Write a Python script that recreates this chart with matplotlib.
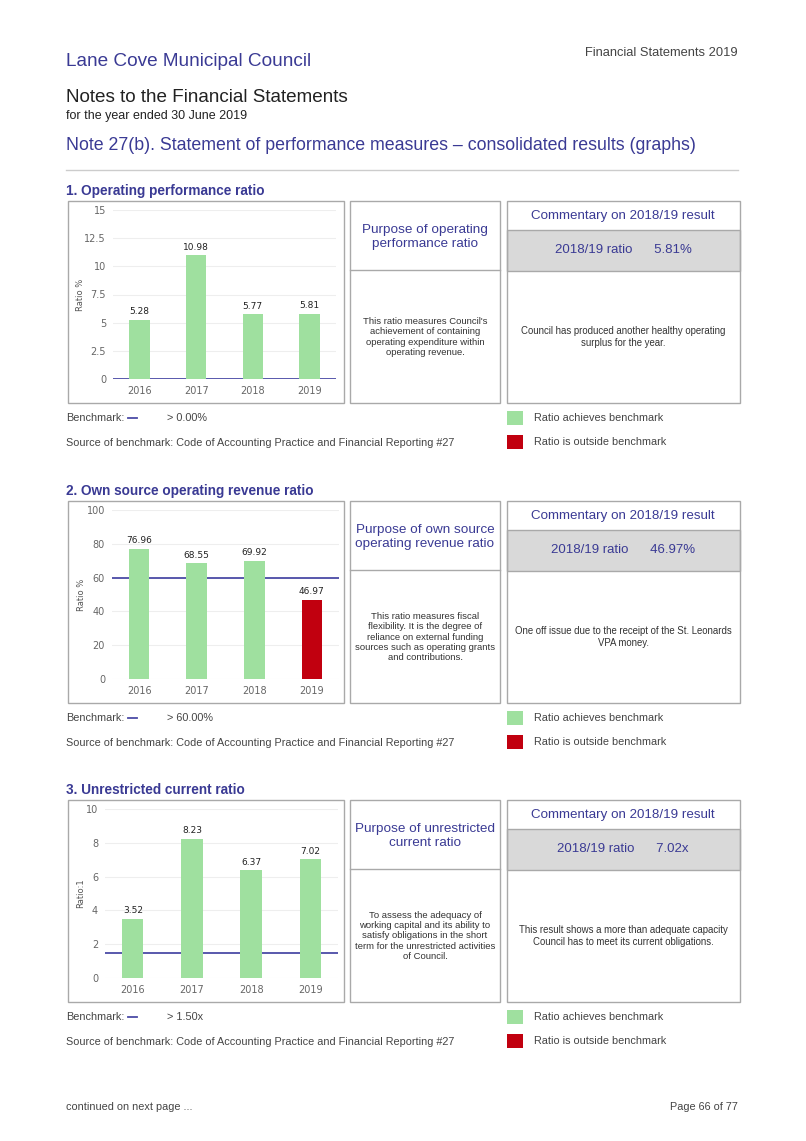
import matplotlib
matplotlib.use("Agg")
import matplotlib.pyplot as plt
from matplotlib.patches import Rectangle

# page size in pixels (dpi 100)
W, H = 806, 1141

years = ["2016", "2017", "2018", "2019"]

op_perf = [5.28, 10.98, 5.77, 5.81]
own_source = [76.96, 68.55, 69.92, 46.97]
unrestricted = [3.52, 8.23, 6.37, 7.02]

benchmarks = [0.0, 60.0, 1.5]
benchmark_labels = ["> 0.00%", "> 60.00%", "> 1.50x"]
result_labels = ["5.81%", "46.97%", "7.02x"]
y_maxes = [15, 100, 10]
y_steps = [2.5, 20, 2]
y_titles = ["Ratio %", "Ratio %", "Ratio:1"]

section_titles = [
    "1. Operating performance ratio",
    "2. Own source operating revenue ratio",
    "3. Unrestricted current ratio",
]
purpose_titles = [
    "Purpose of operating\nperformance ratio",
    "Purpose of own source\noperating revenue ratio",
    "Purpose of unrestricted\ncurrent ratio",
]
purpose_texts = [
    "This ratio measures Council's\nachievement of containing\noperating expenditure within\noperating revenue.",
    "This ratio measures fiscal\nflexibility. It is the degree of\nreliance on external funding\nsources such as operating grants\nand contributions.",
    "To assess the adequacy of\nworking capital and its ability to\nsatisfy obligations in the short\nterm for the unrestricted activities\nof Council.",
]
comments = [
    "Council has produced another healthy operating\nsurplus for the year.",
    "One off issue due to the receipt of the St. Leonards\nVPA money.",
    "This result shows a more than adequate capacity\nCouncil has to meet its current obligations.",
]
source_text = "Source of benchmark: Code of Accounting Practice and Financial Reporting #27"

BLUE = "#3a3a94"
LINE = "#4b4ba6"
GREEN = "#9fe09f"
RED = "#c1000f"
BORDER = "#a9a9a9"
GREY_TEXT = "#444444"

plt.rcParams["font.family"] = ["Liberation Sans", "DejaVu Sans"]

fig = plt.figure(figsize=(W / 100, H / 100), dpi=100)
page = fig.add_axes([0, 0, 1, 1])
page.set_xlim(0, W)
page.set_ylim(H, 0)
page.axis("off")


def px_axes(l, t, r, b):
    return fig.add_axes([l / W, 1 - b / H, (r - l) / W, (b - t) / H])


def box(x0, y0, x1, y1, fc="none"):
    page.add_patch(Rectangle((x0, y0), x1 - x0, y1 - y0, fc=fc, ec=BORDER, lw=1))


# header
page.text(66, 62, "Lane Cove Municipal Council", color=BLUE, fontsize=13.7, va="center")
page.text(738, 53, "Financial Statements 2019", color=GREY_TEXT, fontsize=9.3, va="center", ha="right")
page.text(66, 97, "Notes to the Financial Statements", color="#222222", fontsize=13.6, va="center")
page.text(66, 116, "for the year ended 30 June 2019", color="#222222", fontsize=9, va="center")
page.text(66, 146, "Note 27(b). Statement of performance measures \u2013 consolidated results (graphs)",
          color=BLUE, fontsize=12.8, va="center")
page.plot([66, 738], [170, 170], color="#cccccc", lw=1)

series = [op_perf, own_source, unrestricted]
bases = [191, 491, 790]
chart_lr = [(113, 336), (112, 339), (105, 338)]

for k in range(3):
    base = bases[k]
    vals = series[k]
    bench = benchmarks[k]

    page.text(66, base, section_titles[k], color=BLUE, fontsize=9.8, fontweight="bold", va="center")

    # frames
    box(68, base + 10, 344, base + 212)
    box(350, base + 10, 500, base + 212)
    page.plot([350, 500], [base + 79, base + 79], color=BORDER, lw=1)
    box(507, base + 39, 740, base + 80, fc="#d9d9d9")
    box(507, base + 10, 740, base + 212)

    page.text(425, base + 46, purpose_titles[k], color=BLUE, fontsize=9.7,
              ha="center", va="center", linespacing=1.15)
    page.text(425, base + 146, purpose_texts[k], color="#333333", fontsize=6.8,
              ha="center", va="center", linespacing=1.2)
    page.text(623, base + 25, "Commentary on 2018/19 result", color=BLUE, fontsize=9.6,
              ha="center", va="center")
    page.text(623, base + 59, "2018/19 ratio      " + result_labels[k], color=BLUE, fontsize=9.5,
              ha="center", va="center")
    page.text(623, base + 146, comments[k], color="#333333", fontsize=6.9,
              ha="center", va="center", linespacing=1.2)

    # legend rows
    page.text(66, base + 227, "Benchmark:", color=GREY_TEXT, fontsize=7.8, va="center")
    page.plot([128, 137], [base + 227, base + 227], color=LINE, lw=1.3)
    page.text(167, base + 227, benchmark_labels[k], color=GREY_TEXT, fontsize=7.8, va="center")
    page.text(66, base + 252, source_text, color=GREY_TEXT, fontsize=7.8, va="center")
    page.add_patch(Rectangle((507, base + 220), 16, 14, fc=GREEN, ec="none"))
    page.add_patch(Rectangle((507, base + 244), 16, 14, fc=RED, ec="none"))
    page.text(534, base + 227, "Ratio achieves benchmark", color=GREY_TEXT, fontsize=7.8, va="center")
    page.text(534, base + 251, "Ratio is outside benchmark", color=GREY_TEXT, fontsize=7.8, va="center")

    # bar chart
    l, r = chart_lr[k]
    ax = px_axes(l, base + 19, r, base + 188)
    ymax = y_maxes[k]
    step = y_steps[k]
    ticks = [i * step for i in range(int(round(ymax / step)) + 1)]
    x = list(range(len(years)))
    colors = [GREEN if v >= bench else RED for v in vals]
    ax.bar(x, vals, width=0.36, color=colors, zorder=3)
    ax.axhline(bench, color=LINE, lw=1.3, zorder=2)
    for t in ticks:
        ax.axhline(t, color="#eeeeee", lw=0.8, zorder=1)
    for xi, v in zip(x, vals):
        ax.annotate(f"{v:.2f}", (xi, v), xytext=(0, 2.5), textcoords="offset points",
                    ha="center", va="bottom", fontsize=6.5, color="#222222",
                    family="DejaVu Sans", zorder=4)
    ax.set_xlim(-0.47, 3.47)
    ax.set_ylim(0, ymax)
    ax.set_yticks(ticks)
    ax.set_yticklabels([f"{t:g}" for t in ticks], family="DejaVu Sans")
    ax.set_xticks(x)
    ax.set_xticklabels(years, family="DejaVu Sans")
    ax.tick_params(length=0, labelsize=7, colors="#666666", pad=5)
    ax.set_ylabel(y_titles[k], fontsize=6, color="#555555", family="DejaVu Sans", va="center")
    ax.yaxis.set_label_coords((81 - l) / (r - l), 0.5)
    for s in ax.spines.values():
        s.set_visible(False)
    ax.patch.set_alpha(0)

# footer
page.text(66, 1107, "continued on next page ...", color=GREY_TEXT, fontsize=7.8, va="center")
page.text(738, 1107, "Page 66 of 77", color=GREY_TEXT, fontsize=7.8, va="center", ha="right")

fig.savefig("out.png", dpi=100)
